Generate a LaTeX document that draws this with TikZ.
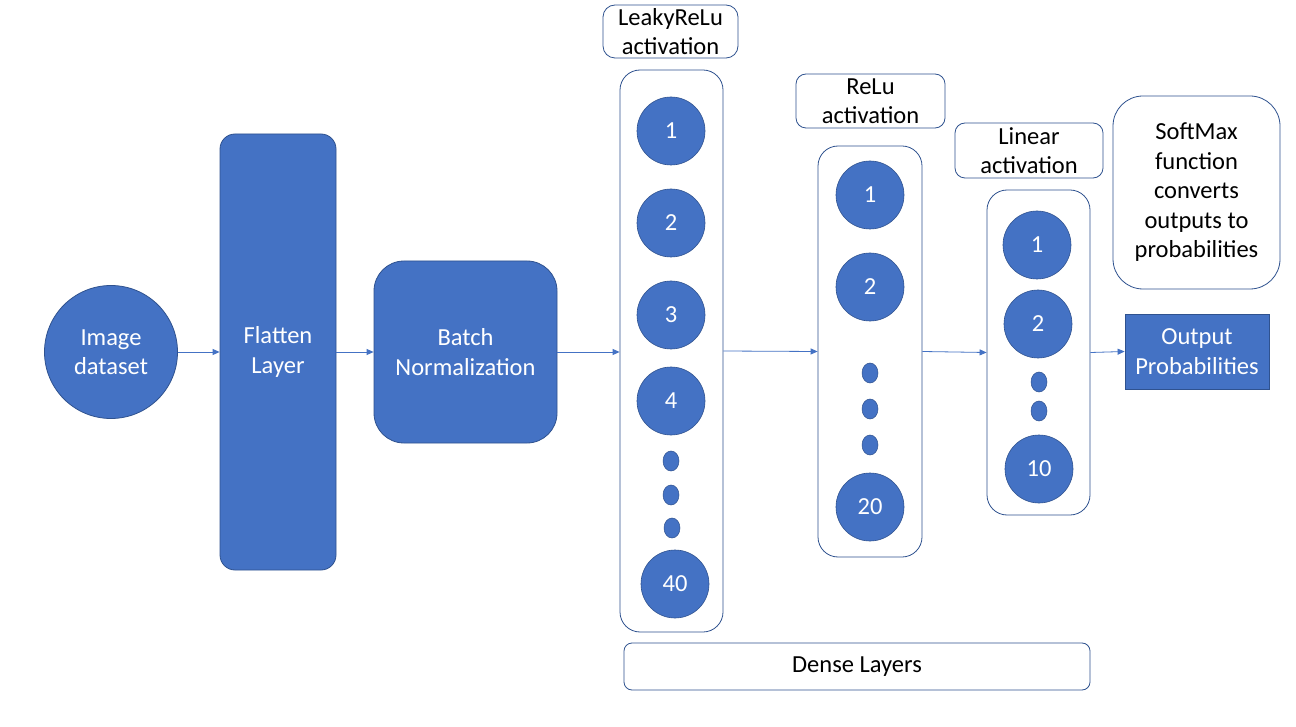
\documentclass[tikz,border=0pt]{standalone}
\usepackage{fontspec}
\setmainfont{Carlito}
\usetikzlibrary{arrows.meta,shapes.geometric}
\definecolor{fillblue}{HTML}{4472C4}
\definecolor{edgeblue}{HTML}{2F528F}
\tikzset{
  txt/.style={font=\fontsize{24.5}{29.5}\selectfont, align=center},
  bluebox/.style={draw=edgeblue, fill=fillblue, line width=0.8pt, text=white, txt, inner sep=0pt},
  whitebox/.style={draw=edgeblue, fill=white, line width=0.8pt, text=black, txt, inner sep=0pt, rounded corners=10pt},
  neuron/.style={circle, draw=edgeblue, fill=fillblue, line width=0.6pt, text=white, minimum size=68pt, inner sep=0pt, font=\fontsize{24.5}{29.5}\selectfont},
  dotn/.style={ellipse, draw=edgeblue, fill=fillblue, line width=0.5pt, minimum width=16pt, minimum height=20pt, inner sep=0pt},
  conn/.style={draw=fillblue, line width=0.8pt, -{Triangle[length=7pt,width=6pt]}},
}
\begin{document}
\begin{tikzpicture}[x=1pt,y=-1pt]
\useasboundingbox[fill=white] (0,0) rectangle (1296,727);
% input
\node[bluebox, circle, minimum size=133pt] (img) at (111,352) {Image\\dataset};
\node[bluebox, rounded corners=15pt, minimum width=116pt, minimum height=436pt] (flat) at (278,352) {Flatten\\Layer};
\node[bluebox, rounded corners=30pt, minimum width=183pt, minimum height=182pt] (bn) at (465.5,352) {Batch\\Normalization};
% dense layer 1
\node[whitebox, rounded corners=12pt, minimum width=135pt, minimum height=53pt] (act1) at (670.5,31.5) {LeakyReLu\\activation};
\node[whitebox, rounded corners=20pt, minimum width=103pt, minimum height=562pt] (col1) at (671.5,351) {};
\node[neuron] (a1) at (671,131) {1};
\node[neuron] (a2) at (671,223) {2};
\node[neuron] (a3) at (671,315) {3};
\node[neuron] (a4) at (671,401) {4};
\node[dotn] (ad1) at (671,461) {};
\node[dotn] (ad2) at (671,495) {};
\node[dotn] (ad3) at (672,528) {};
\node[neuron] (a40) at (675,584) {40};
% dense layer 2
\node[whitebox, rounded corners=10pt, minimum width=149pt, minimum height=54pt] (act2) at (870.5,101) {ReLu\\activation};
\node[whitebox, rounded corners=20pt, minimum width=104pt, minimum height=411pt] (col2) at (870,351.5) {};
\node[neuron] (b1) at (870,195) {1};
\node[neuron] (b2) at (870,287) {2};
\node[dotn] (bd1) at (870,373) {};
\node[dotn] (bd2) at (870,409) {};
\node[dotn] (bd3) at (870,445) {};
\node[neuron] (b20) at (870,507) {20};
% dense layer 3
\node[whitebox, rounded corners=10pt, minimum width=148pt, minimum height=55pt] (act3) at (1029,150.5) {Linear\\activation};
\node[whitebox, rounded corners=20pt, minimum width=103pt, minimum height=325pt] (col3) at (1038.5,352.5) {};
\node[neuron] (c1) at (1037,245) {1};
\node[neuron] (c2) at (1038,324) {2};
\node[dotn] (cd1) at (1039,382) {};
\node[dotn] (cd2) at (1039,411) {};
\node[neuron] (c10) at (1039,469) {10};
% output
\node[bluebox, minimum width=144pt, minimum height=75pt] (out) at (1197,351.5) {Output\\Probabilities};
\node[whitebox, rounded corners=30pt, minimum width=167pt, minimum height=193pt] (soft) at (1196.5,192.5) {SoftMax\\function\\converts\\outputs to\\probabilities};
\node[whitebox, rounded corners=8pt, minimum width=466pt, minimum height=47pt] (dense) at (857,666.5) {Dense Layers};
% connectors
\draw[conn] (img.east) -- (flat.west |- img.east);
\draw[conn] (flat.east |- bn.west) -- (bn.west);
\draw[conn] (bn.east) -- (col1.west |- bn.east);
\draw[conn] (col1.east) -- (col2.west);
\draw[conn] (col2.east) -- (col3.west);
\draw[conn] (col3.east) -- (out.west);
\end{tikzpicture}
\end{document}
